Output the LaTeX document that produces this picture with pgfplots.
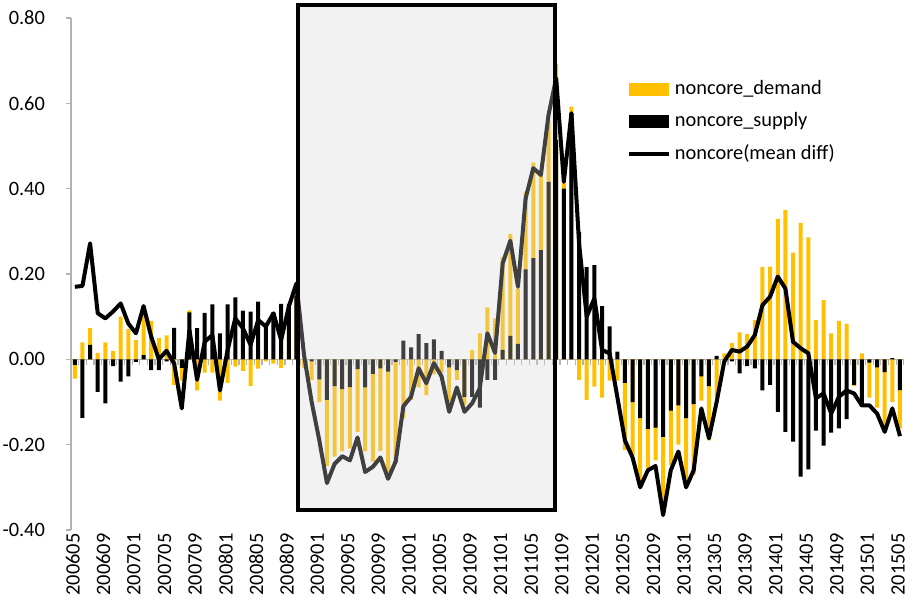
\documentclass[border=0pt]{standalone}
\usepackage{fontspec}
\setmainfont{Carlito}
\usepackage{pgfplots}
\usepackage{pgfplotstable}
\pgfplotsset{compat=1.18}
\definecolor{dem}{HTML}{FFC000}
\definecolor{axgray}{HTML}{B3B3B3}
\definecolor{boxfill}{HTML}{D5D5D5}
\newcommand\lbl{\fontsize{10.2}{12}\selectfont}

% monthly values, i=0 is 200605, i=108 is 201505
\pgfplotstableread{
i D S L
0 -0.045 -0.013 0.170
1 0.040 -0.137 0.172
2 0.073 0.034 0.272
3 0.015 -0.076 0.108
4 0.040 -0.103 0.096
5 0.020 -0.016 0.112
6 0.100 -0.052 0.131
7 0.071 -0.040 0.084
8 0.045 -0.006 0.061
9 0.104 0.010 0.125
10 0.090 -0.025 0.053
11 0.050 -0.025 0.000
12 0.056 -0.005 0.020
13 -0.060 0.074 -0.010
14 -0.050 -0.020 -0.115
15 0.115 0.110 0.069
16 -0.073 0.073 -0.048
17 -0.031 0.109 0.041
18 -0.031 0.129 0.057
19 -0.097 0.061 -0.073
20 -0.055 0.129 0.022
21 -0.017 0.145 0.096
22 -0.027 0.114 0.073
23 -0.063 0.112 0.034
24 -0.022 0.135 0.092
25 -0.005 0.084 0.077
26 -0.010 0.110 0.108
27 -0.020 0.130 0.045
28 0.120 0.130 0.123
29 0.170 0.150 0.178
30 -0.020 0.000 0.010
31 -0.048 -0.005 -0.100
32 -0.100 -0.047 -0.190
33 -0.250 -0.095 -0.290
34 -0.228 -0.063 -0.245
35 -0.216 -0.070 -0.227
36 -0.209 -0.065 -0.237
37 -0.170 -0.023 -0.183
38 -0.216 -0.066 -0.264
39 -0.240 -0.034 -0.252
40 -0.215 -0.021 -0.230
41 -0.263 -0.029 -0.280
42 -0.244 -0.006 -0.239
43 -0.138 0.044 -0.110
44 -0.095 0.028 -0.088
45 -0.066 0.059 -0.021
46 -0.084 0.038 -0.056
47 -0.035 0.047 -0.009
48 -0.031 0.020 -0.040
49 -0.100 -0.019 -0.123
50 -0.048 -0.025 -0.066
51 -0.107 -0.088 -0.123
52 0.022 -0.088 -0.103
53 0.061 -0.113 -0.068
54 0.122 -0.048 0.061
55 0.096 -0.048 0.015
56 0.240 0.022 0.225
57 0.294 0.055 0.278
58 0.166 0.036 0.170
59 0.393 0.211 0.377
60 0.461 0.237 0.448
61 0.432 0.256 0.432
62 0.557 0.416 0.573
63 0.693 0.514 0.659
64 0.414 0.400 0.416
65 0.592 0.577 0.577
66 -0.048 0.299 0.270
67 -0.095 0.216 0.100
68 -0.064 0.221 0.143
69 -0.090 0.125 0.022
70 -0.050 0.077 0.014
71 -0.050 0.018 -0.088
72 -0.213 -0.055 -0.190
73 -0.224 -0.100 -0.230
74 -0.298 -0.138 -0.300
75 -0.255 -0.163 -0.260
76 -0.237 -0.160 -0.250
77 -0.350 -0.182 -0.365
78 -0.248 -0.120 -0.260
79 -0.200 -0.108 -0.216
80 -0.280 -0.138 -0.300
81 -0.270 -0.105 -0.260
82 -0.097 -0.040 -0.115
83 -0.190 -0.063 -0.185
84 -0.090 0.008 -0.100
85 0.014 0.000 -0.005
86 0.038 -0.005 0.022
87 0.063 -0.033 0.018
88 0.059 -0.016 0.030
89 0.092 -0.021 0.057
90 0.216 -0.073 0.127
91 0.217 -0.060 0.147
92 0.329 -0.123 0.194
93 0.350 -0.170 0.166
94 0.250 -0.193 0.041
95 0.320 -0.275 0.026
96 0.286 -0.258 0.014
97 0.092 -0.167 -0.091
98 0.139 -0.202 -0.080
99 0.061 -0.172 -0.127
100 0.090 -0.162 -0.088
101 0.083 -0.140 -0.073
102 -0.063 -0.060 -0.080
103 0.014 -0.111 -0.108
104 -0.090 -0.008 -0.108
105 -0.113 -0.019 -0.127
106 -0.154 -0.030 -0.170
107 -0.100 0.003 -0.115
108 -0.162 -0.072 -0.180
}\noncore

\begin{document}
\begin{tikzpicture}
\begin{axis}[
  at={(0,0)}, anchor=south west,
  scale only axis, width=416.4pt, height=256pt,
  xmin=-0.5, xmax=108.5, ymin=-0.4, ymax=0.8,
  clip=false,
  axis x line=middle, axis y line=left,
  axis line style={-, draw=axgray, line width=0.8pt},
  hide obscured x ticks=false, hide obscured y ticks=false,
  tick align=outside,
  xtick={0,4,...,108},
  xticklabels={200605,200609,200701,200705,200709,200801,200805,200809,200901,200905,200909,201001,201005,201009,201101,201105,201109,201201,201205,201209,201301,201305,201309,201401,201405,201409,201501,201505},
  minor xtick={-0.5,0.5,...,108.5},
  major x tick style={draw=none},
  minor x tick style={draw=axgray, line width=0.6pt},
  minor tick length=3pt,
  xticklabel shift=81pt,
  x tick label style={xshift=-1pt, rotate=90, anchor=east, font=\lbl},
  ytick={-0.4,-0.2,0,0.2,0.4,0.6,0.8},
  y tick style={draw=axgray, line width=0.8pt},
  major tick length=2.5pt,
  yticklabel shift=7pt,
  y tick label style={font=\lbl},
  /pgf/number format/assume math mode=true,
  yticklabel style={/pgf/number format/.cd, fixed, fixed zerofill, precision=2},
  legend style={at={(axis cs:72.2,0.664)}, anchor=north west, draw=none, fill=none,
    inner sep=0pt, font=\lbl, row sep=3.5pt,
    /tikz/every even column/.append style={column sep=2pt}},
  legend cell align=left,
]
\addplot[ybar, bar width=2pt, bar shift=0pt, fill=dem, draw=none,
  legend image code/.code={\fill[dem] (0pt,-3.25pt) rectangle (20pt,3.25pt);}]
  table[x=i, y=D] {\noncore};
\addlegendentry{noncore\_demand}
\addplot[ybar, bar width=2pt, bar shift=0pt, fill=black, draw=none,
  legend image code/.code={\fill[black] (0pt,-3.25pt) rectangle (20pt,3.25pt);}]
  table[x=i, y=S] {\noncore};
\addlegendentry{noncore\_supply}
\addplot[black, line width=2pt, line join=round, mark=none,
  legend image code/.code={\draw[black, line width=2pt] (0pt,0pt) -- (20pt,0pt);}]
  table[x=i, y=L] {\noncore};
\addlegendentry{noncore(mean diff)}
% shaded crisis window
\draw[line width=2pt, fill=boxfill, fill opacity=0.3]
  (axis cs:29.15,-0.353) rectangle (axis cs:62.87,0.83);
\end{axis}
\pgfresetboundingbox
\path[use as bounding box] (-35.5pt,-42.5pt) rectangle (418.5pt,265pt);
\end{tikzpicture}
\end{document}
